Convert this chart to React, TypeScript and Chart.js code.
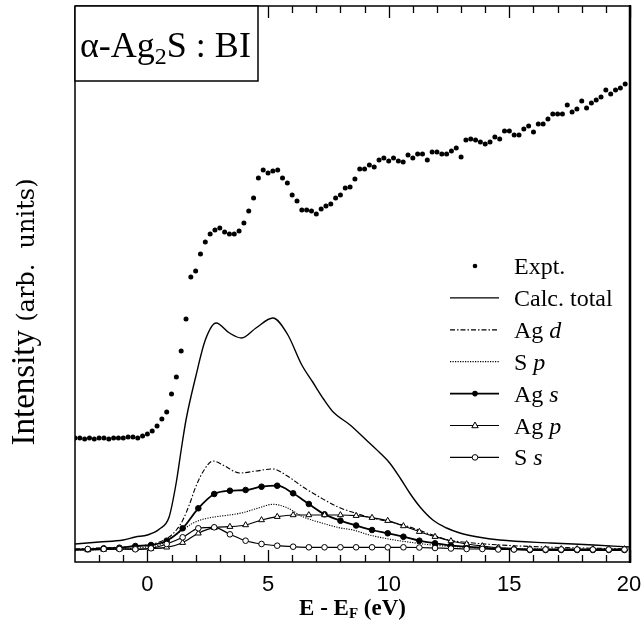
import React, { useEffect, useRef } from "react";
import { Chart, registerables } from "chart.js";

Chart.register(...registerables);

// ---------- data ----------
const exptX = [
  -3.0, -2.8, -2.6, -2.4, -2.2, -2.0, -1.8, -1.6, -1.4, -1.2, -1.0, -0.8, -0.6, -0.4, -0.2,
  0.0, 0.2, 0.4, 0.6, 0.8, 1.0, 1.2, 1.4, 1.6, 1.8, 2.0, 2.2, 2.4, 2.6, 2.8,
  3.0, 3.2, 3.4, 3.6, 3.8, 4.0, 4.2, 4.4, 4.6, 4.8, 5.0, 5.2, 5.4, 5.6, 5.8,
  6.0, 6.2, 6.4, 6.6, 6.8, 7.0, 7.2, 7.4, 7.6, 7.8, 8.0, 8.2, 8.4, 8.6, 8.8,
  9.0, 9.2, 9.4, 9.6, 9.8, 10.0, 10.2, 10.4, 10.6, 10.8, 11.0, 11.2, 11.4, 11.6, 11.8,
  12.0, 12.2, 12.4, 12.6, 12.8, 13.0, 13.2, 13.4, 13.6, 13.8, 14.0, 14.2, 14.4, 14.6, 14.8,
  15.0, 15.2, 15.4, 15.6, 15.8, 16.0, 16.2, 16.4, 16.6, 16.8, 17.0, 17.2, 17.4, 17.6, 17.8,
  18.0, 18.2, 18.4, 18.6, 18.8, 19.0, 19.2, 19.4, 19.6, 19.8,
];
const exptY = [
  124, 124, 123, 124, 123, 124, 124, 123, 124, 124, 124, 125, 125, 124, 126,
  128, 131, 136, 143, 150, 168, 185, 211, 243, 285, 291, 308, 320, 328, 332,
  334, 330, 328, 328, 331, 339, 351, 364, 384, 392, 389, 391, 392, 384, 379,
  367, 361, 352, 352, 351, 348, 353, 356, 358, 364, 367, 374, 375, 383, 393,
  393, 397, 395, 402, 404, 401, 404, 401, 400, 407, 404, 408, 408, 402, 410,
  410, 408, 408, 411, 414, 405, 422, 423, 422, 420, 418, 420, 425, 423, 431,
  431, 427, 427, 433, 436, 430, 438, 438, 443, 448, 448, 448, 457, 450, 453,
  461, 454, 459, 462, 465, 472, 468, 472, 474, 478,
];

const totalX = [
  -3, -2, -1, -0.5, 0, 0.5, 0.9, 1.2, 1.4, 1.6, 2.0, 2.4, 2.85, 3.4, 3.9, 4.5, 5.2, 5.8,
  6.4, 6.85, 7.3, 7.7, 8.4, 9.07, 9.6, 10.04, 10.5, 10.87, 11.3, 11.83, 12.4, 12.95,
  13.7, 14.6, 16.7, 18.5, 20,
];
const totalY = [
  18, 20, 22, 25, 27, 33, 45, 80, 112, 142, 185, 222, 239, 229, 224, 234, 244, 228,
  197, 180, 163, 150, 137, 122, 110, 99, 83, 69, 55, 42, 34, 29,
  25, 22, 19, 17, 15,
];

const agDX = [
  -3, -2, -1, 0, 0.5, 0.9, 1.2, 1.47, 1.75, 2.0, 2.35, 2.71, 3.2, 3.82, 4.5, 5.2, 5.8,
  6.45, 7.2, 7.9, 8.6, 9.3, 10.1, 10.87, 11.7, 12.5, 13.5, 14.6, 16.5, 20,
];
const agDY = [
  13, 14, 15, 17, 20, 25, 32, 42, 58, 75, 92, 101, 96, 89, 91, 93, 86,
  75, 64, 55, 49, 44, 40, 35, 28, 22, 19, 17, 15, 13,
];

const sPX = [
  -3, -1, 0, 0.5, 0.8, 1.1, 1.46, 1.9, 2.3, 2.85, 3.4, 3.95, 4.6, 5.2, 5.75, 6.44,
  7.27, 8.0, 8.52, 9.2, 10.0, 10.8, 11.8, 13.0, 15.0, 20,
];
const sPY = [
  12, 13, 15, 17, 21, 26, 32, 39, 42.7, 45.3, 47, 49.3, 54, 57.7, 54.7, 45.3,
  38.7, 34, 32, 27, 23, 20, 17, 15, 13.5, 12.5,
];

// energies of the marked (symbol) curves
const markX = [
  -3.12, -2.47, -1.81, -1.16, -0.5, 0.15, 0.8, 1.46, 2.11, 2.77, 3.42, 4.07, 4.73, 5.38,
  6.04, 6.69, 7.34, 8.0, 8.65, 9.31, 9.96, 10.61, 11.27, 11.92, 12.58, 13.23, 13.88,
  14.54, 15.19, 15.85, 16.5, 17.15, 17.81, 18.46, 19.12, 19.77,
];
const agSY = [
  12.7, 12.7, 13.7, 14.3, 16, 17, 21.3, 33.7, 53.7, 68, 71.3, 72, 75.3, 76.3,
  68.7, 58, 47.7, 41.3, 36.5, 32, 28.7, 25.3, 21.3, 18.7, 16.3, 15.3, 14.3,
  13.3, 12.7, 12, 12, 12, 12, 12, 12, 12,
];
const agPY = [
  12, 12, 12.5, 13, 13, 13.5, 14.7, 19.3, 28.7, 34.3, 35.3, 37, 42, 45.3,
  47, 47, 47, 47, 46.3, 44.3, 41.3, 36, 30.3, 25.3, 21, 18, 16,
  14.3, 13.5, 13, 13, 13, 13, 13, 13, 13,
];
const sSY = [
  12, 13, 13, 13, 12.7, 13.7, 18, 24.7, 33.7, 34.7, 27.7, 21.3, 18, 16.3,
  15.3, 14.7, 14.7, 14.7, 14.7, 14.7, 14.7, 14.7, 14.5, 14, 13.5, 13, 13,
  12.5, 12.5, 12.5, 12.5, 12.5, 12.5, 12.5, 12.5, 12.5,
];

const xTickValues = [0, 5, 10, 15, 20];
const xTickLabels = ["0", "5", "10", "15", "20"];
const xMinorTickValues = [
  -2, -1, 0, 1, 2, 3, 4, 5, 6, 7, 8, 9, 10, 11, 12, 13, 14, 15, 16, 17, 18, 19, 20,
];

const legendItems = [
  { kind: "dot", text: "Expt.", it: "" },
  { kind: "solid", text: "Calc. total", it: "" },
  { kind: "dashdot", text: "Ag ", it: "d" },
  { kind: "dotted", text: "S ", it: "p" },
  { kind: "filled", text: "Ag ", it: "s" },
  { kind: "triangle", text: "Ag ", it: "p" },
  { kind: "open", text: "S ", it: "s" },
];

const SERIF = "'Liberation Serif', 'Times New Roman', serif";
const SANS = "'Liberation Sans', Arial, sans-serif";

const pts = (xs: number[], ys: number[]) => xs.map((x, i) => ({ x, y: ys[i] }));

const decorPlugin = {
  id: "decor",
  afterDraw(chart: any) {
    const ctx: CanvasRenderingContext2D = chart.ctx;
    const a = chart.chartArea;
    const xs = chart.scales.x;
    ctx.save();
    ctx.strokeStyle = "#000";
    ctx.fillStyle = "#000";

    // frame
    ctx.lineWidth = 1.5;
    ctx.beginPath();
    ctx.moveTo(a.left, a.top);
    ctx.lineTo(a.right, a.top);
    ctx.moveTo(a.left, a.top);
    ctx.lineTo(a.left, a.bottom);
    ctx.lineTo(a.right, a.bottom);
    ctx.stroke();
    ctx.lineWidth = 2.5;
    ctx.beginPath();
    ctx.moveTo(a.right, a.top - 1);
    ctx.lineTo(a.right, a.bottom + 1);
    ctx.stroke();

    // inward ticks top and bottom
    ctx.lineWidth = 1.3;
    ctx.beginPath();
    for (const v of xMinorTickValues) {
      const px = Math.round(xs.getPixelForValue(v)) + 0.5;
      const len = v % 5 === 0 ? 12 : 7;
      ctx.moveTo(px, a.bottom);
      ctx.lineTo(px, a.bottom - len);
      ctx.moveTo(px, a.top);
      ctx.lineTo(px, a.top + len);
    }
    ctx.stroke();

    // tick labels
    ctx.font = `22px ${SANS}`;
    ctx.textAlign = "center";
    ctx.textBaseline = "middle";
    xTickValues.forEach((v, i) => {
      const px = Math.min(xs.getPixelForValue(v), 629);
      ctx.fillText(xTickLabels[i], px, a.bottom + 23);
    });
    ctx.textAlign = "left";

    // title box
    const bx = a.left, by = a.top, bw = 183, bh = 75;
    ctx.fillStyle = "#fff";
    ctx.fillRect(bx, by, bw, bh);
    ctx.fillStyle = "#000";
    ctx.lineWidth = 1.5;
    ctx.strokeRect(bx, by, bw, bh);
    ctx.textBaseline = "alphabetic";
    let tx = bx + 5;
    const ty = by + 51;
    ctx.font = `36px ${SERIF}`;
    ctx.fillText("\u03B1-Ag", tx, ty);
    tx += ctx.measureText("\u03B1-Ag").width;
    ctx.font = `24px ${SERIF}`;
    ctx.fillText("2", tx, ty + 7);
    tx += ctx.measureText("2").width;
    ctx.font = `36px ${SERIF}`;
    ctx.fillText("S : BI", tx, ty);

    // legend
    const lx0 = 450, lx1 = 499, lmx = 475, ltx = 514;
    legendItems.forEach((it, i) => {
      const y = 266 + i * 31.9;
      ctx.strokeStyle = "#000";
      ctx.fillStyle = "#000";
      ctx.setLineDash([]);
      if (it.kind === "dot") {
        ctx.beginPath();
        ctx.arc(lmx, y, 2.3, 0, Math.PI * 2);
        ctx.fill();
      } else {
        ctx.lineWidth = it.kind === "filled" ? 1.8 : 1.2;
        if (it.kind === "dashdot") ctx.setLineDash([5, 2, 1.5, 2]);
        if (it.kind === "dotted") ctx.setLineDash([1.2, 1.3]);
        ctx.beginPath();
        ctx.moveTo(lx0, y);
        ctx.lineTo(lx1, y);
        ctx.stroke();
        ctx.setLineDash([]);
        ctx.lineWidth = 1;
        if (it.kind === "filled") {
          ctx.beginPath();
          ctx.arc(lmx, y, 2.8, 0, Math.PI * 2);
          ctx.fill();
        } else if (it.kind === "open") {
          ctx.beginPath();
          ctx.arc(lmx, y, 2.8, 0, Math.PI * 2);
          ctx.fillStyle = "#fff";
          ctx.fill();
          ctx.stroke();
        } else if (it.kind === "triangle") {
          ctx.beginPath();
          ctx.moveTo(lmx, y - 3.5);
          ctx.lineTo(lmx + 3.2, y + 2.2);
          ctx.lineTo(lmx - 3.2, y + 2.2);
          ctx.closePath();
          ctx.fillStyle = "#fff";
          ctx.fill();
          ctx.stroke();
        }
      }
      ctx.fillStyle = "#000";
      ctx.font = `24px ${SERIF}`;
      ctx.fillText(it.text, ltx, y + 8);
      if (it.it) {
        const w = ctx.measureText(it.text).width;
        ctx.font = `italic 24px ${SERIF}`;
        ctx.fillText(it.it, ltx + w, y + 8);
      }
    });

    // x axis title: E - E_F (eV)
    ctx.font = `bold 23px ${SERIF}`;
    const p1 = "E - E";
    const p3 = " (eV)";
    const w1 = ctx.measureText(p1).width;
    const w3 = ctx.measureText(p3).width;
    ctx.font = `bold 15px ${SERIF}`;
    const w2 = ctx.measureText("F").width;
    const cx = (a.left + a.right) / 2;
    let sx = cx - (w1 + w2 + w3) / 2;
    const sy = 615;
    ctx.font = `bold 23px ${SERIF}`;
    ctx.fillText(p1, sx, sy);
    sx += w1;
    ctx.font = `bold 15px ${SERIF}`;
    ctx.fillText("F", sx, sy + 3);
    sx += w2;
    ctx.font = `bold 23px ${SERIF}`;
    ctx.fillText(p3, sx, sy);

    // y axis title
    ctx.save();
    ctx.translate(34, 312);
    ctx.rotate(-Math.PI / 2);
    ctx.font = `33px ${SERIF}`;
    const q1 = "Intensity ";
    const qw1 = ctx.measureText(q1).width;
    ctx.font = `24px 'DejaVu Serif', serif`;
    const q2 = "(arb.  units)";
    const qw2 = ctx.measureText(q2).width;
    let qx = -(qw1 + qw2) / 2;
    ctx.font = `33px ${SERIF}`;
    ctx.fillText(q1, qx, 0);
    qx += qw1;
    ctx.font = `24px 'DejaVu Serif', serif`;
    ctx.fillText(q2, qx, 0);
    ctx.restore();

    ctx.restore();
  },
};

export default function App() {
  const ref = useRef<HTMLCanvasElement | null>(null);
  useEffect(() => {
    document.body.style.margin = "0";
    document.body.style.background = "#fff";
    if (!ref.current) return;
    const smooth = {
      pointRadius: 0,
      fill: false,
      cubicInterpolationMode: "monotone" as const,
      borderColor: "#000",
    };
    const chart = new Chart(ref.current, {
      type: "line",
      data: {
        datasets: [
          {
            label: "S s",
            data: pts(markX, sSY),
            borderColor: "#000",
            borderWidth: 1.2,
            pointStyle: "circle",
            pointRadius: 2.8,
            pointBorderWidth: 1,
            pointBackgroundColor: "#fff",
            pointBorderColor: "#000",
            cubicInterpolationMode: "monotone",
          },
          {
            label: "Ag p",
            data: pts(markX, agPY),
            borderColor: "#000",
            borderWidth: 1.2,
            pointStyle: "triangle",
            pointRadius: 3.4,
            pointBorderWidth: 1,
            pointBackgroundColor: "#fff",
            pointBorderColor: "#000",
            cubicInterpolationMode: "monotone",
          },
          {
            label: "Ag s",
            data: pts(markX, agSY),
            borderColor: "#000",
            borderWidth: 1.8,
            pointStyle: "circle",
            pointRadius: 2.8,
            pointBorderWidth: 1,
            pointBackgroundColor: "#000",
            pointBorderColor: "#000",
            cubicInterpolationMode: "monotone",
          },
          { label: "S p", data: pts(sPX, sPY), borderWidth: 1.1, borderDash: [1.2, 1.3], ...smooth },
          { label: "Ag d", data: pts(agDX, agDY), borderWidth: 1.1, borderDash: [5, 2, 1.5, 2], ...smooth },
          { label: "Calc. total", data: pts(totalX, totalY), borderWidth: 1.4, ...smooth },
          {
            label: "Expt.",
            data: pts(exptX, exptY),
            showLine: false,
            pointStyle: "circle",
            pointRadius: 2.5,
            pointBorderWidth: 0,
            pointBackgroundColor: "#000",
            borderColor: "#000",
          },
        ],
      },
      options: {
        animation: false,
        responsive: false,
        devicePixelRatio: 1,
        layout: { padding: { left: 75, right: 13, top: 6, bottom: 69 } },
        plugins: {
          legend: { display: false },
          tooltip: { enabled: false },
          title: { display: false },
        },
        scales: {
          x: { type: "linear", display: false, min: -3, max: 20 },
          y: { display: false, min: 0, max: 556 },
        },
      },
      plugins: [decorPlugin],
    });
    return () => chart.destroy();
  }, []);
  return (
    <div style={{ width: 643, height: 631, background: "#fff" }}>
      <canvas ref={ref} width={643} height={631} style={{ display: "block" }} />
    </div>
  );
}
